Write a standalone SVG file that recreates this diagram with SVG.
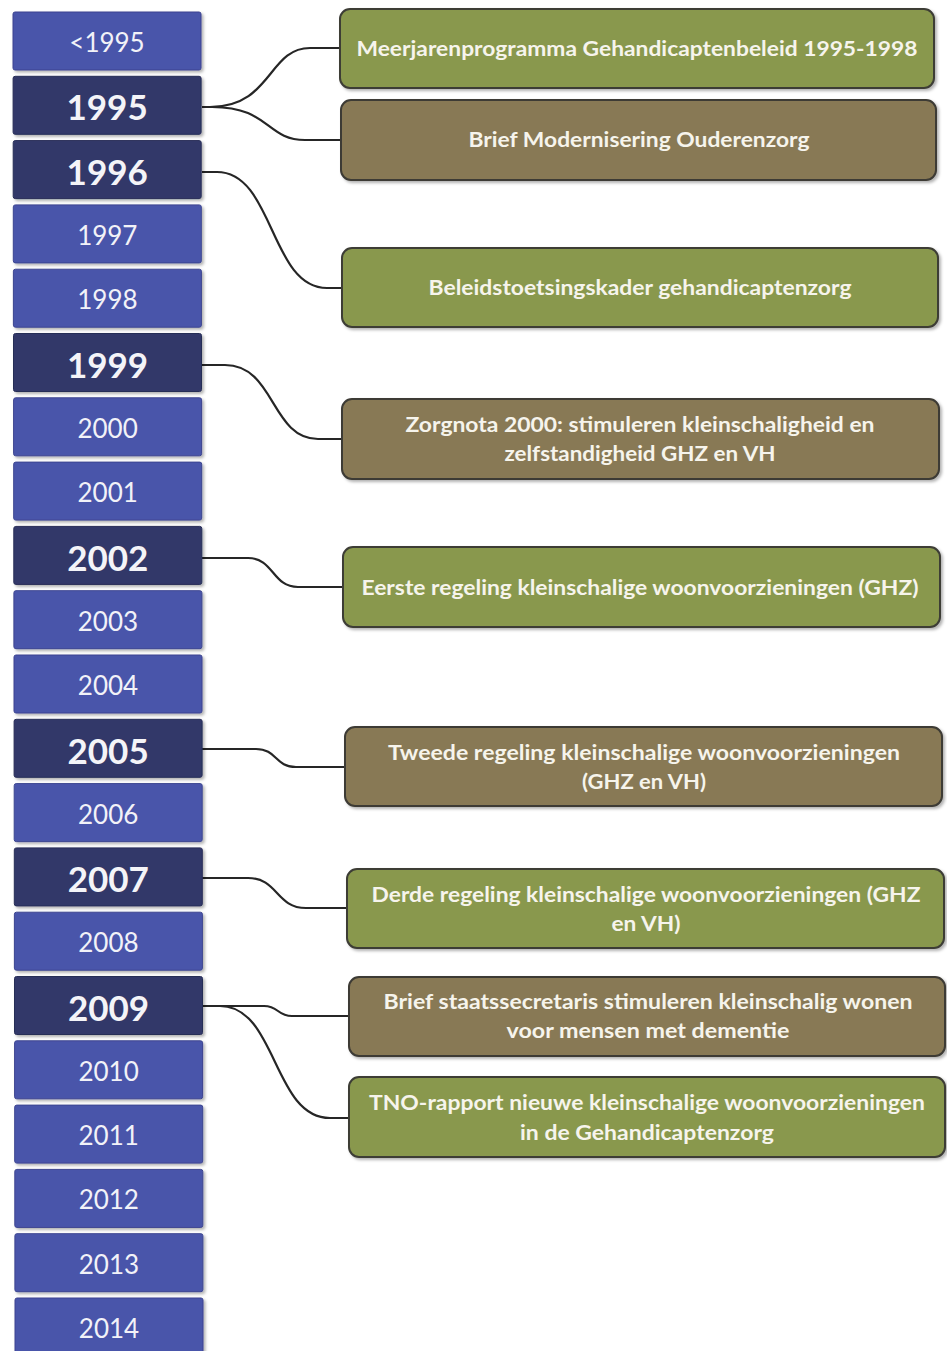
<svg xmlns="http://www.w3.org/2000/svg" width="947" height="1351" viewBox="0 0 947 1351">
<defs>
<filter id="sh" x="-5%" y="-10%" width="115%" height="130%">
<feDropShadow dx="2" dy="2" stdDeviation="1.8" flood-color="#000" flood-opacity="0.3"/>
</filter>
<style>
.yl{fill:#4a55aa;stroke:#3c4590;stroke-width:1;filter:url(#sh)}
.yd{fill:#323969;stroke:#272d57;stroke-width:1;filter:url(#sh)}
.tl{font-family:Lato,"Open Sans","Liberation Sans",sans-serif;font-size:26px;fill:#f2f2f8;text-anchor:middle}
.td{font-family:Lato,"Open Sans","Liberation Sans",sans-serif;font-size:35px;font-weight:bold;fill:#f4f4f8;text-anchor:middle}
.bg{fill:#89984d;stroke:#3c3c36;stroke-width:2;filter:url(#sh)}
.bb{fill:#887954;stroke:#3c3a34;stroke-width:2;filter:url(#sh)}
.bt{font-family:Lato,"Open Sans","Liberation Sans",sans-serif;font-size:20px;font-weight:bold;fill:#f6f4ec;text-anchor:middle}
.c{fill:none;stroke:#262626;stroke-width:2.2}
</style>
</defs>
<rect width="947" height="1351" fill="#ffffff"/>
<g id="connectors">
<path class="c" d="M202,107 L210,107 C272,107 268,48 310,48 L340,48"/>
<path class="c" d="M202,107 L212,107 C270,107 266,140 305,140 L341,140"/>
<path class="c" d="M202,172 L217,172 C274,172 270,288 327,288 L342,288"/>
<path class="c" d="M202,365 L225,365 C275,365 271,439 318,439 L342,439"/>
<path class="c" d="M202,558 L248,558 C274,558 272,587 298,587 L343,587"/>
<path class="c" d="M202,749 L256,749 C277,749 275,767 296,767 L345,767"/>
<path class="c" d="M202,878 L248,878 C278,878 276,908 306,908 L347,908"/>
<path class="c" d="M202,1006 L264,1006 C279,1006 277,1016 292,1016 L349,1016"/>
<path class="c" d="M202,1006 L220,1006 C277,1006 273,1118 330,1118 L349,1118"/>
</g>
<g id="y1994"><rect class="yl" x="13" y="12" width="188" height="58" rx="2"/><text class="tl" x="107" y="52">&lt;1995</text></g>
<g id="y1995"><rect class="yd" x="13.1" y="76.3" width="188" height="58" rx="2"/><text class="td" x="107.1" y="120">1995</text></g>
<g id="y1996"><rect class="yd" x="13.2" y="140.6" width="188" height="58" rx="2"/><text class="td" x="107.2" y="185">1996</text></g>
<g id="y1997"><rect class="yl" x="13.3" y="204.9" width="188" height="58" rx="2"/><text class="tl" x="107.3" y="245">1997</text></g>
<g id="y1998"><rect class="yl" x="13.4" y="269.2" width="188" height="58" rx="2"/><text class="tl" x="107.4" y="309">1998</text></g>
<g id="y1999"><rect class="yd" x="13.5" y="333.5" width="188" height="58" rx="2"/><text class="td" x="107.5" y="378">1999</text></g>
<g id="y2000"><rect class="yl" x="13.6" y="397.8" width="188" height="58" rx="2"/><text class="tl" x="107.6" y="438">2000</text></g>
<g id="y2001"><rect class="yl" x="13.7" y="462.1" width="188" height="58" rx="2"/><text class="tl" x="107.7" y="502">2001</text></g>
<g id="y2002"><rect class="yd" x="13.8" y="526.4" width="188" height="58" rx="2"/><text class="td" x="107.8" y="571">2002</text></g>
<g id="y2003"><rect class="yl" x="13.9" y="590.7" width="188" height="58" rx="2"/><text class="tl" x="107.9" y="631">2003</text></g>
<g id="y2004"><rect class="yl" x="14" y="655" width="188" height="58" rx="2"/><text class="tl" x="108" y="695">2004</text></g>
<g id="y2005"><rect class="yd" x="14.1" y="719.3" width="188" height="58" rx="2"/><text class="td" x="108.1" y="764">2005</text></g>
<g id="y2006"><rect class="yl" x="14.2" y="783.6" width="188" height="58" rx="2"/><text class="tl" x="108.2" y="824">2006</text></g>
<g id="y2007"><rect class="yd" x="14.3" y="847.9" width="188" height="58" rx="2"/><text class="td" x="108.3" y="892">2007</text></g>
<g id="y2008"><rect class="yl" x="14.4" y="912.2" width="188" height="58" rx="2"/><text class="tl" x="108.4" y="952">2008</text></g>
<g id="y2009"><rect class="yd" x="14.5" y="976.5" width="188" height="58" rx="2"/><text class="td" x="108.5" y="1021">2009</text></g>
<g id="y2010"><rect class="yl" x="14.6" y="1040.8" width="188" height="58" rx="2"/><text class="tl" x="108.6" y="1081">2010</text></g>
<g id="y2011"><rect class="yl" x="14.7" y="1105.1" width="188" height="58" rx="2"/><text class="tl" x="108.7" y="1145">2011</text></g>
<g id="y2012"><rect class="yl" x="14.8" y="1169.4" width="188" height="58" rx="2"/><text class="tl" x="108.8" y="1209">2012</text></g>
<g id="y2013"><rect class="yl" x="14.9" y="1233.7" width="188" height="58" rx="2"/><text class="tl" x="108.9" y="1274">2013</text></g>
<g id="y2014"><rect class="yl" x="15" y="1298" width="188" height="60" rx="2"/><text class="tl" x="109" y="1338">2014</text></g>

<g id="e1"><rect class="bg" x="340" y="9" width="594" height="79" rx="10"/><text class="bt" x="637" y="56" textLength="561" lengthAdjust="spacingAndGlyphs">Meerjarenprogramma Gehandicaptenbeleid 1995-1998</text></g>
<g id="e2"><rect class="bb" x="341" y="100" width="595" height="80" rx="10"/><text class="bt" x="639" y="147" textLength="341" lengthAdjust="spacingAndGlyphs">Brief Modernisering Ouderenzorg</text></g>
<g id="e3"><rect class="bg" x="342" y="248" width="596" height="79" rx="10"/><text class="bt" x="640" y="295" textLength="423" lengthAdjust="spacingAndGlyphs">Beleidstoetsingskader gehandicaptenzorg</text></g>
<g id="e4"><rect class="bb" x="342" y="399" width="597" height="80" rx="10"/><text class="bt" x="640" y="432" textLength="469" lengthAdjust="spacingAndGlyphs">Zorgnota 2000: stimuleren kleinschaligheid en</text><text class="bt" x="640" y="461" textLength="271" lengthAdjust="spacingAndGlyphs">zelfstandigheid GHZ en VH</text></g>
<g id="e5"><rect class="bg" x="343" y="547" width="597" height="80" rx="10"/><text class="bt" x="640" y="595" textLength="557" lengthAdjust="spacingAndGlyphs">Eerste regeling kleinschalige woonvoorzieningen (GHZ)</text></g>
<g id="e6"><rect class="bb" x="345" y="727" width="597" height="79" rx="10"/><text class="bt" x="644" y="760" textLength="512" lengthAdjust="spacingAndGlyphs">Tweede regeling kleinschalige woonvoorzieningen</text><text class="bt" x="644" y="789" textLength="124" lengthAdjust="spacingAndGlyphs">(GHZ en VH)</text></g>
<g id="e7"><rect class="bg" x="347" y="869" width="597" height="79" rx="10"/><text class="bt" x="646" y="902" textLength="549" lengthAdjust="spacingAndGlyphs">Derde regeling kleinschalige woonvoorzieningen (GHZ</text><text class="bt" x="646" y="931" textLength="69" lengthAdjust="spacingAndGlyphs">en VH)</text></g>
<g id="e8"><rect class="bb" x="349" y="977" width="596" height="79" rx="10"/><text class="bt" x="648" y="1009" textLength="529" lengthAdjust="spacingAndGlyphs">Brief staatssecretaris  stimuleren kleinschalig wonen</text><text class="bt" x="648" y="1038" textLength="283" lengthAdjust="spacingAndGlyphs">voor mensen met dementie</text></g>
<g id="e9"><rect class="bg" x="349" y="1077" width="596" height="80" rx="10"/><text class="bt" x="647" y="1110" textLength="556" lengthAdjust="spacingAndGlyphs">TNO-rapport nieuwe kleinschalige woonvoorzieningen</text><text class="bt" x="647" y="1140" textLength="254" lengthAdjust="spacingAndGlyphs">in de Gehandicaptenzorg</text></g>
</svg>
